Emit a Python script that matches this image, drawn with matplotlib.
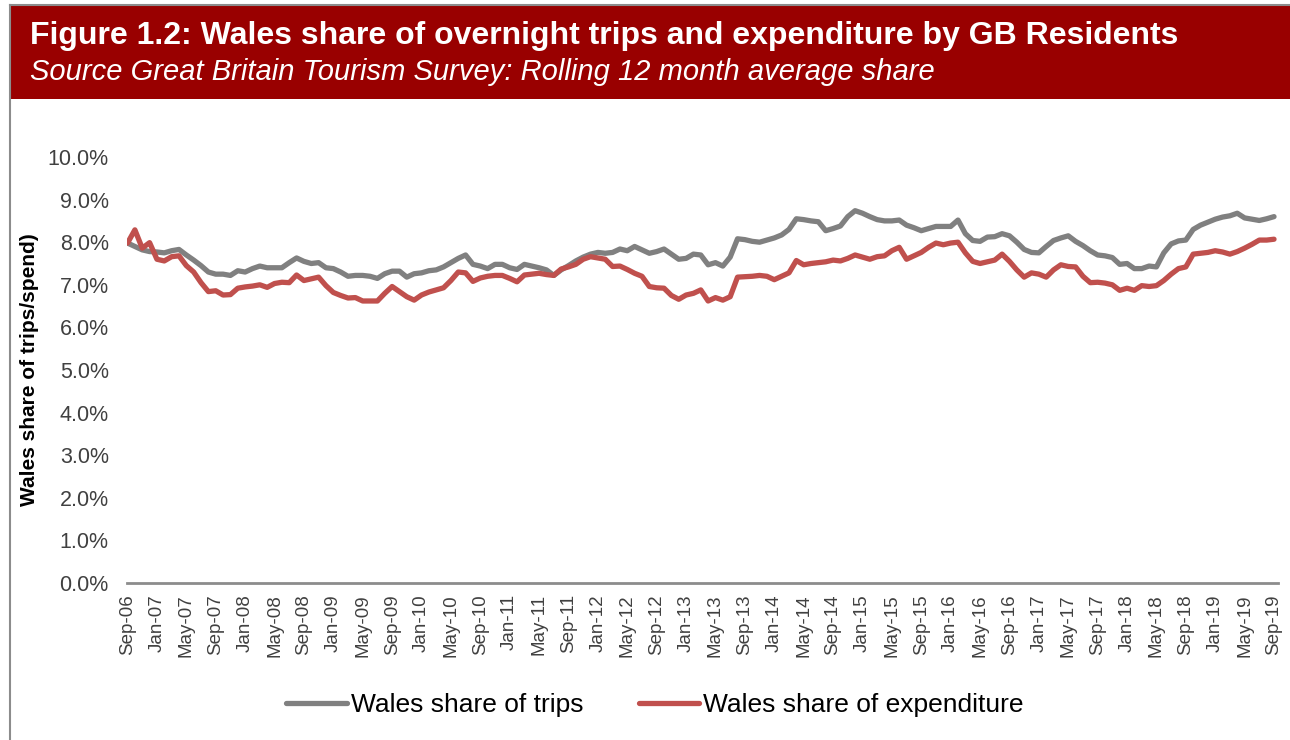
import matplotlib
matplotlib.use("Agg")
import matplotlib.pyplot as plt
from matplotlib.patches import Rectangle
from matplotlib.lines import Line2D
import numpy as np

plt.rcParams['font.family'] = ['Liberation Sans', 'DejaVu Sans']

title = "Figure 1.2: Wales share of overnight trips and expenditure by GB Residents"
subtitle = "Source Great Britain Tourism Survey: Rolling 12 month average share"
ylabel = "Wales share of trips/spend)"
series_names = ["Wales share of trips", "Wales share of expenditure"]

# Tick labels, every 4th month from Sep-06 to Sep-19
tick_labels = ["Sep-06", "Jan-07", "May-07", "Sep-07", "Jan-08", "May-08", "Sep-08",
               "Jan-09", "May-09", "Sep-09", "Jan-10", "May-10", "Sep-10", "Jan-11",
               "May-11", "Sep-11", "Jan-12", "May-12", "Sep-12", "Jan-13", "May-13",
               "Sep-13", "Jan-14", "May-14", "Sep-14", "Jan-15", "May-15", "Sep-15",
               "Jan-16", "May-16", "Sep-16", "Jan-17", "May-17", "Sep-17", "Jan-18",
               "May-18", "Sep-18", "Jan-19", "May-19", "Sep-19"]

# Monthly values (%), Sep-06 .. Sep-19
trips = [7.98, 7.90, 7.82, 7.78, 7.77, 7.75, 7.80, 7.83, 7.70, 7.58,
         7.45, 7.30, 7.25, 7.25, 7.22, 7.33, 7.30, 7.38, 7.44, 7.40,
         7.40, 7.40, 7.52, 7.63, 7.55, 7.50, 7.52, 7.40, 7.38, 7.30,
         7.20, 7.22, 7.22, 7.20, 7.15, 7.26, 7.32, 7.32, 7.18, 7.26,
         7.28, 7.33, 7.35, 7.42, 7.52, 7.62, 7.70, 7.48, 7.44, 7.38,
         7.48, 7.48, 7.40, 7.36, 7.48, 7.44, 7.40, 7.35, 7.22, 7.35,
         7.45, 7.56, 7.65, 7.72, 7.76, 7.74, 7.76, 7.84, 7.80, 7.90,
         7.82, 7.74, 7.78, 7.84, 7.72, 7.60, 7.62, 7.72, 7.70, 7.47,
         7.52, 7.44, 7.65, 8.08, 8.06, 8.02, 8.00, 8.05, 8.10, 8.17,
         8.30, 8.55, 8.53, 8.50, 8.48, 8.27, 8.32, 8.38, 8.60, 8.74,
         8.68, 8.60, 8.53, 8.50, 8.50, 8.52, 8.40, 8.34, 8.27, 8.32,
         8.37, 8.37, 8.37, 8.52, 8.20, 8.04, 8.02, 8.12, 8.13, 8.20,
         8.15, 8.00, 7.83, 7.76, 7.75, 7.90, 8.04, 8.10, 8.15, 8.02,
         7.92, 7.80, 7.70, 7.68, 7.64, 7.48, 7.50, 7.38, 7.38, 7.44,
         7.42, 7.75, 7.96, 8.03, 8.05, 8.30, 8.40, 8.47, 8.54, 8.59,
         8.62, 8.68, 8.57, 8.54, 8.51, 8.55, 8.60]

expenditure = [7.98, 8.29, 7.86, 7.99, 7.60, 7.56, 7.66, 7.68, 7.45, 7.30,
               7.05, 6.84, 6.86, 6.76, 6.77, 6.92, 6.95, 6.97, 7.00, 6.94,
               7.03, 7.06, 7.05, 7.23, 7.10, 7.14, 7.18, 6.98, 6.82, 6.75,
               6.69, 6.70, 6.62, 6.62, 6.62, 6.80, 6.96, 6.84, 6.72, 6.64,
               6.76, 6.83, 6.88, 6.93, 7.10, 7.30, 7.28, 7.08, 7.16, 7.20,
               7.22, 7.22, 7.15, 7.07, 7.23, 7.25, 7.27, 7.24, 7.22, 7.37,
               7.42, 7.48, 7.60, 7.66, 7.63, 7.60, 7.43, 7.44, 7.36, 7.27,
               7.20, 6.96, 6.93, 6.92, 6.75, 6.66, 6.76, 6.80, 6.88, 6.62,
               6.70, 6.64, 6.72, 7.18, 7.19, 7.20, 7.22, 7.20, 7.12, 7.20,
               7.28, 7.57, 7.47, 7.50, 7.52, 7.54, 7.58, 7.56, 7.62, 7.70,
               7.65, 7.60, 7.66, 7.68, 7.80, 7.88, 7.60, 7.68, 7.76, 7.88,
               7.98, 7.94, 7.98, 8.00, 7.75, 7.55, 7.50, 7.54, 7.58, 7.72,
               7.55, 7.35, 7.18, 7.28, 7.25, 7.18, 7.35, 7.47, 7.43, 7.42,
               7.20, 7.05, 7.06, 7.04, 7.00, 6.87, 6.92, 6.87, 6.98, 6.96,
               6.98, 7.10, 7.25, 7.38, 7.42, 7.72, 7.74, 7.76, 7.80, 7.77,
               7.72, 7.78, 7.86, 7.95, 8.05, 8.05, 8.07]

y_ticks = [0, 1, 2, 3, 4, 5, 6, 7, 8, 9, 10]

GREY = "#808080"
RED = "#c0504d"
BAND = "#990000"

fig = plt.figure(figsize=(12.9, 7.4), dpi=100)
W, H = 1290, 740

# outer grey border (top and left)
fig.add_artist(Line2D([10 / W, 10 / W], [0, 1 - 5 / H], color="#8c8c8c", lw=1.5,
                      transform=fig.transFigure))
fig.add_artist(Line2D([10 / W, 1], [1 - 5 / H, 1 - 5 / H], color="#8c8c8c", lw=1.5,
                      transform=fig.transFigure))
# header band
fig.add_artist(Rectangle((10 / W, 1 - 99 / H), 1 - 10 / W, 94 / H,
                         transform=fig.transFigure, facecolor=BAND, edgecolor="none"))
fig.text(30 / W, 1 - 36 / H, title, color="white", fontsize=23, fontweight="bold",
         va="center", ha="left")
fig.text(30 / W, 1 - 72 / H, subtitle, color="white", fontsize=21, style="italic",
         va="center", ha="left")

ax = fig.add_axes([126.8 / W, 157 / H, 1150.9 / W, 426 / H])
x = np.arange(len(trips))
ax.plot(x, trips, color=GREY, lw=3.8, solid_capstyle="round", solid_joinstyle="round",
        label=series_names[0])
ax.plot(x, expenditure, color=RED, lw=3.8, solid_capstyle="round", solid_joinstyle="round",
        label=series_names[1])

ax.set_xlim(-0.1, len(trips) - 0.5)
ax.set_ylim(0, 10)
ax.set_yticks(y_ticks)
ax.set_yticklabels([f"{v:.1f}%" for v in y_ticks], fontsize=15.5, color="#404040")
tick_pos = np.arange(0, len(trips), 4)
ax.set_xticks(tick_pos)
ax.set_xticklabels(tick_labels, rotation=90, fontsize=13.5, color="#404040")
ax.tick_params(axis="both", length=0)
ax.tick_params(axis="y", pad=13)
ax.tick_params(axis="x", pad=8)
for s in ["top", "right", "left"]:
    ax.spines[s].set_visible(False)
ax.spines["bottom"].set_color("#8c8c8c")
ax.spines["bottom"].set_linewidth(2)

fig.text(30 / W, 1 - 370 / H, ylabel, rotation=90, fontsize=15, fontweight="bold",
         va="center", ha="center", color="black")

fig.legend(loc="center", bbox_to_anchor=(655 / W, 1 - 705 / H), ncol=2, frameon=False,
           fontsize=19, handlelength=2.3, handletextpad=0.15, columnspacing=2.1)

fig.savefig("out.png", dpi=100, facecolor="white")
